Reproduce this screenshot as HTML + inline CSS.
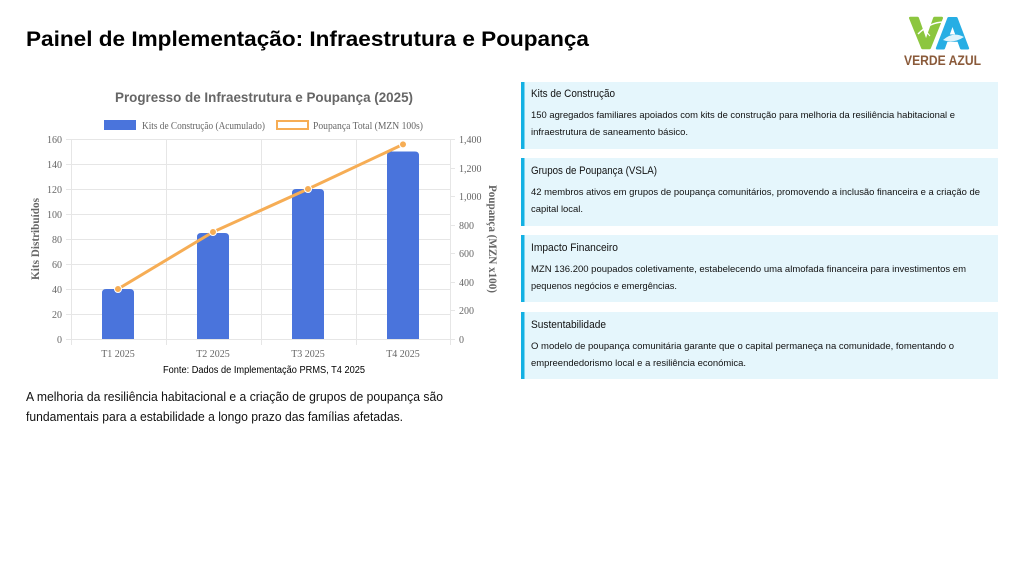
<!DOCTYPE html>
<html><head><meta charset="utf-8"><style>
html,body{margin:0;padding:0;background:#fff;width:1024px;height:576px;overflow:hidden}
svg{display:block}
</style></head><body>
<svg width="1024" height="576" viewBox="0 0 1024 576" xmlns="http://www.w3.org/2000/svg">
<rect width="1024" height="576" fill="#fff"/>
<!-- Title -->
<text x="26" y="46" font-family="Liberation Sans, sans-serif" font-weight="bold" font-size="21" fill="#000" textLength="563" lengthAdjust="spacingAndGlyphs">Painel de Implementação: Infraestrutura e Poupança</text>

<!-- Logo -->
<text x="910" y="48" font-family="Liberation Sans, sans-serif" font-weight="bold" font-size="44" fill="#8cc63f" stroke="#8cc63f" stroke-width="2.5" stroke-linejoin="round" textLength="32" lengthAdjust="spacingAndGlyphs">V</text>
<text x="936" y="48" font-family="Liberation Sans, sans-serif" font-weight="bold" font-size="44" fill="#27aee4" stroke="#27aee4" stroke-width="2.5" stroke-linejoin="round" textLength="33" lengthAdjust="spacingAndGlyphs">A</text>
<path d="M918 34 Q930 22 944 22" stroke="#fff" stroke-width="1.5" fill="none"/>
<path d="M925 30 L930 36" stroke="#fff" stroke-width="1" fill="none"/>
<path d="M943 40 Q953 31 964 37 Q953 44 943 40Z" fill="#fff" opacity="0.85"/>
<text x="904" y="65" font-family="Liberation Sans, sans-serif" font-weight="bold" font-size="14" fill="#8a5a3a" textLength="77" lengthAdjust="spacingAndGlyphs">VERDE AZUL</text>

<!-- Chart title -->
<text x="264" y="102" text-anchor="middle" font-family="Liberation Sans, sans-serif" font-weight="bold" font-size="14" fill="#666" textLength="298" lengthAdjust="spacingAndGlyphs">Progresso de Infraestrutura e Poupança (2025)</text>
<!-- Legend -->
<rect x="104" y="120" width="32" height="10" fill="#4a74dc"/>
<text x="142" y="129" font-family="Liberation Serif, serif" font-size="10.5" fill="#666" textLength="123" lengthAdjust="spacingAndGlyphs">Kits de Construção (Acumulado)</text>
<rect x="277" y="121" width="31" height="8" fill="#fff" stroke="#f6ad55" stroke-width="2"/>
<text x="313" y="129" font-family="Liberation Serif, serif" font-size="10.5" fill="#666" textLength="110" lengthAdjust="spacingAndGlyphs">Poupança Total (MZN 100s)</text>

<!-- Grid -->
<g stroke="#e6e6e6" stroke-width="1">
<line x1="71" y1="139.5" x2="450" y2="139.5"/>
<line x1="71" y1="164.5" x2="450" y2="164.5"/>
<line x1="71" y1="189.5" x2="450" y2="189.5"/>
<line x1="71" y1="214.5" x2="450" y2="214.5"/>
<line x1="71" y1="239.5" x2="450" y2="239.5"/>
<line x1="71" y1="264.5" x2="450" y2="264.5"/>
<line x1="71" y1="289.5" x2="450" y2="289.5"/>
<line x1="71" y1="314.5" x2="450" y2="314.5"/>
<line x1="66" y1="339.5" x2="455" y2="339.5"/>
<line x1="71.5" y1="139" x2="71.5" y2="345"/>
<line x1="166.5" y1="139" x2="166.5" y2="345"/>
<line x1="261.5" y1="139" x2="261.5" y2="345"/>
<line x1="356.5" y1="139" x2="356.5" y2="345"/>
<line x1="450.5" y1="139" x2="450.5" y2="345"/>
</g>
<g stroke="#e6e6e6"><line x1="66" y1="139.5" x2="71" y2="139.5"/><line x1="66" y1="164.5" x2="71" y2="164.5"/><line x1="66" y1="189.5" x2="71" y2="189.5"/><line x1="66" y1="214.5" x2="71" y2="214.5"/><line x1="66" y1="239.5" x2="71" y2="239.5"/><line x1="66" y1="264.5" x2="71" y2="264.5"/><line x1="66" y1="289.5" x2="71" y2="289.5"/><line x1="66" y1="314.5" x2="71" y2="314.5"/>
<line x1="450" y1="139.5" x2="455" y2="139.5"/><line x1="450" y1="168.5" x2="455" y2="168.5"/><line x1="450" y1="196.5" x2="455" y2="196.5"/><line x1="450" y1="225.5" x2="455" y2="225.5"/><line x1="450" y1="253.5" x2="455" y2="253.5"/><line x1="450" y1="282.5" x2="455" y2="282.5"/><line x1="450" y1="310.5" x2="455" y2="310.5"/></g>

<!-- Left ticks -->
<g font-family="Liberation Serif, serif" font-size="10" fill="#666" text-anchor="end">
<text x="62" y="143">160</text><text x="62" y="168">140</text><text x="62" y="193">120</text><text x="62" y="218">100</text><text x="62" y="243">80</text><text x="62" y="268">60</text><text x="62" y="293">40</text><text x="62" y="318">20</text><text x="62" y="343">0</text>
</g>
<!-- Right ticks -->
<g font-family="Liberation Serif, serif" font-size="10" fill="#666">
<text x="459" y="143">1,400</text><text x="459" y="172">1,200</text><text x="459" y="200">1,000</text><text x="459" y="229">800</text><text x="459" y="257">600</text><text x="459" y="286">400</text><text x="459" y="314">200</text><text x="459" y="343">0</text>
</g>
<!-- Axis titles -->
<text transform="translate(39,239) rotate(-90)" text-anchor="middle" font-family="Liberation Serif, serif" font-weight="bold" font-size="11.5" fill="#666" textLength="82" lengthAdjust="spacingAndGlyphs">Kits Distribuídos</text>
<text transform="translate(489,239) rotate(90)" text-anchor="middle" font-family="Liberation Serif, serif" font-weight="bold" font-size="11.5" fill="#666" textLength="108" lengthAdjust="spacingAndGlyphs">Poupança (MZN x100)</text>

<!-- Bars -->
<g fill="#4a74dc">
<path d="M102 339 V293 Q102 289 106 289 H130 Q134 289 134 293 V339Z"/>
<path d="M197 339 V237 Q197 233 201 233 H225 Q229 233 229 237 V339Z"/>
<path d="M292 339 V193 Q292 189 296 189 H320 Q324 189 324 193 V339Z"/>
<path d="M387 339 V155.5 Q387 151.5 391 151.5 H415 Q419 151.5 419 155.5 V339Z"/>
</g>
<!-- Line -->
<polyline points="118,289 213,232 308,189 403,144.4" fill="none" stroke="#f6ad55" stroke-width="3" stroke-linejoin="round"/>
<g fill="#f6ad55" stroke="#fff" stroke-width="1">
<circle cx="118" cy="289" r="3.5"/><circle cx="213" cy="232" r="3.5"/><circle cx="308" cy="189" r="3.5"/><circle cx="403" cy="144.4" r="3.5"/>
</g>

<!-- X labels -->
<g font-family="Liberation Serif, serif" font-size="10" fill="#666" text-anchor="middle">
<text x="118" y="357">T1 2025</text><text x="213" y="357">T2 2025</text><text x="308" y="357">T3 2025</text><text x="403" y="357">T4 2025</text>
</g>
<text x="264" y="373" text-anchor="middle" font-family="Liberation Sans, sans-serif" font-size="10" fill="#000" textLength="202" lengthAdjust="spacingAndGlyphs">Fonte: Dados de Implementação PRMS, T4 2025</text>

<!-- Paragraph -->
<g font-family="Liberation Sans, sans-serif" font-size="13" fill="#111">
<text x="26" y="401" textLength="417" lengthAdjust="spacingAndGlyphs">A melhoria da resiliência habitacional e a criação de grupos de poupança são</text>
<text x="26" y="421" textLength="377" lengthAdjust="spacingAndGlyphs">fundamentais para a estabilidade a longo prazo das famílias afetadas.</text>
</g>

<!-- Cards -->
<g>
<rect x="521" y="82" width="477" height="67" fill="#e5f6fc"/><rect x="521" y="82" width="3.5" height="67" fill="#14b1e3"/>
<rect x="521" y="158" width="477" height="68" fill="#e5f6fc"/><rect x="521" y="158" width="3.5" height="68" fill="#14b1e3"/>
<rect x="521" y="235" width="477" height="67" fill="#e5f6fc"/><rect x="521" y="235" width="3.5" height="67" fill="#14b1e3"/>
<rect x="521" y="312" width="477" height="67" fill="#e5f6fc"/><rect x="521" y="312" width="3.5" height="67" fill="#14b1e3"/>
</g>
<g font-family="Liberation Sans, sans-serif" fill="#111">
<text x="531" y="97" font-size="11" textLength="84" lengthAdjust="spacingAndGlyphs">Kits de Construção</text>
<text x="531" y="118" font-size="9.5" textLength="424" lengthAdjust="spacingAndGlyphs">150 agregados familiares apoiados com kits de construção para melhoria da resiliência habitacional e</text>
<text x="531" y="135" font-size="9.5" textLength="157" lengthAdjust="spacingAndGlyphs">infraestrutura de saneamento básico.</text>

<text x="531" y="174" font-size="11" textLength="126" lengthAdjust="spacingAndGlyphs">Grupos de Poupança (VSLA)</text>
<text x="531" y="195" font-size="9.5" textLength="449" lengthAdjust="spacingAndGlyphs">42 membros ativos em grupos de poupança comunitários, promovendo a inclusão financeira e a criação de</text>
<text x="531" y="212" font-size="9.5" textLength="52" lengthAdjust="spacingAndGlyphs">capital local.</text>

<text x="531" y="251" font-size="11" textLength="87" lengthAdjust="spacingAndGlyphs">Impacto Financeiro</text>
<text x="531" y="272" font-size="9.5" textLength="435" lengthAdjust="spacingAndGlyphs">MZN 136.200 poupados coletivamente, estabelecendo uma almofada financeira para investimentos em</text>
<text x="531" y="289" font-size="9.5" textLength="146" lengthAdjust="spacingAndGlyphs">pequenos negócios e emergências.</text>

<text x="531" y="328" font-size="11" textLength="75" lengthAdjust="spacingAndGlyphs">Sustentabilidade</text>
<text x="531" y="349" font-size="9.5" textLength="423" lengthAdjust="spacingAndGlyphs">O modelo de poupança comunitária garante que o capital permaneça na comunidade, fomentando o</text>
<text x="531" y="366" font-size="9.5" textLength="215" lengthAdjust="spacingAndGlyphs">empreendedorismo local e a resiliência económica.</text>
</g>
</svg>
</body></html>
